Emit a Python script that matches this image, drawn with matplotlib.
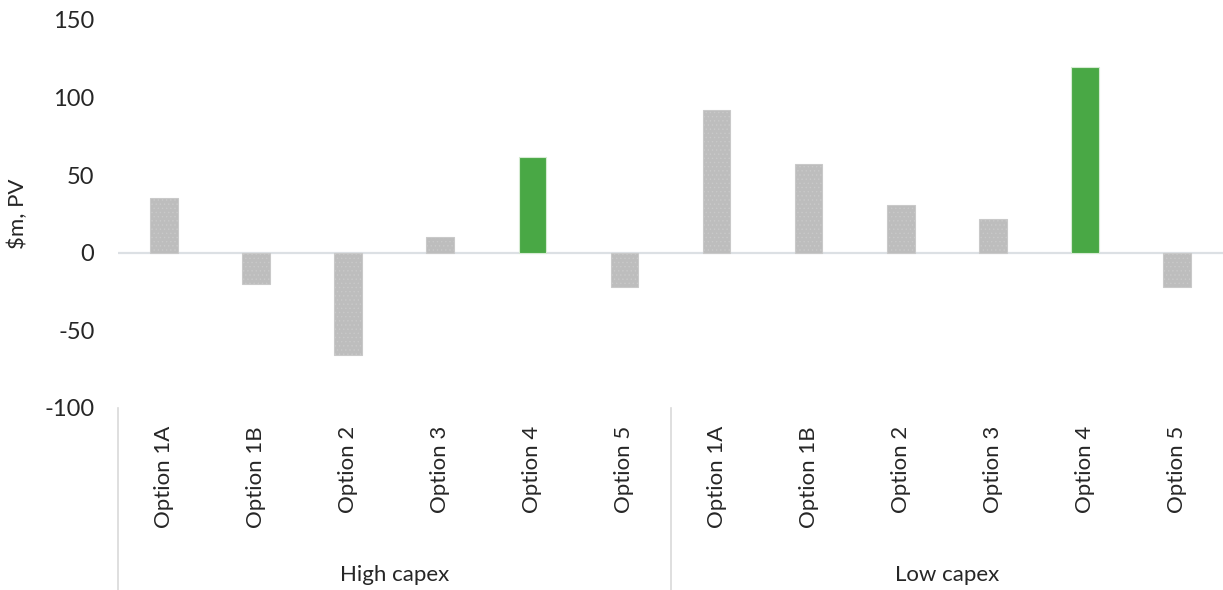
import matplotlib.pyplot as plt
import matplotlib.transforms as mtransforms

plt.rcParams['font.family'] = ['Lato', 'DejaVu Sans']
plt.rcParams['axes.unicode_minus'] = False  # plain hyphen like the source

groups = ['High capex', 'Low capex']
options = ['Option 1A', 'Option 1B', 'Option 2', 'Option 3', 'Option 4', 'Option 5']
high_capex = [35, -20, -66, 10, 62, -22]
low_capex = [92, 57, 31, 22, 120, -22]
highlight = 'Option 4'

values = high_capex + low_capex
labels = options + options
x = list(range(len(values)))
colors = ['#49A845' if lab == highlight else '#BDBDBD' for lab in labels]
edges = ['#D6EBD3' if lab == highlight else '#C9C9C9' for lab in labels]
hatches = ['' if lab == highlight else '....' for lab in labels]

fig = plt.figure(figsize=(12.23, 5.9), dpi=100)
ax = fig.add_axes([118 / 1223, 1 - 408 / 590, 1 - 118 / 1223, 388 / 590])

plt.rcParams['hatch.linewidth'] = 0.5
bars = ax.bar(x, values, width=0.3, color=colors, edgecolor=edges, linewidth=0.8)
for b, h in zip(bars, hatches):
    b.set_hatch(h)

ax.axhline(0, color='#DCE0E4', linewidth=1.6, zorder=0)

ax.set_xlim(-0.5, len(values) - 0.5)
ax.set_ylim(-100, 150)
ax.set_yticks([-100, -50, 0, 50, 100, 150])
ax.tick_params(axis='y', length=0, pad=17, labelsize=17, labelcolor='#262626')
ax.set_xticks(x)
ax.set_xticklabels(labels, rotation=90, va='top', ha='center')
ax.tick_params(axis='x', length=0, pad=13, labelsize=16, labelcolor='#262626')
for s in ax.spines.values():
    s.set_visible(False)

ax.set_ylabel('$m, PV', fontsize=16, color='#262626', labelpad=12)

# group separators and group names under the axis
trans = mtransforms.blended_transform_factory(ax.transData, ax.transAxes)
n = len(options)
for i in range(len(groups)):
    ax.plot([i * n - 0.5, i * n - 0.5], [0, -0.47], color='#D9D9D9', linewidth=1.2,
            transform=trans, clip_on=False)
    ax.text(i * n + (n - 1) / 2, -0.43, groups[i], transform=trans, ha='center',
            va='center', fontsize=16, color='#262626')

fig.savefig('out.png', dpi=100)
